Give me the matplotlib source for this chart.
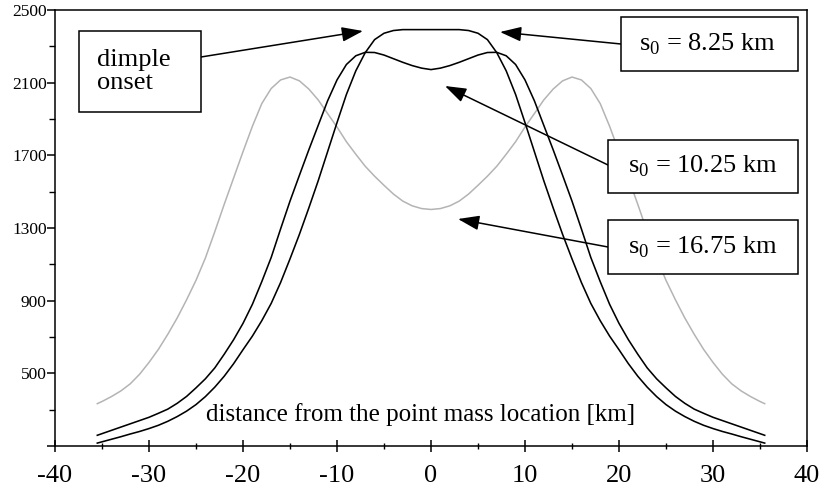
#
# python3 plot.py
#
import matplotlib
matplotlib.use("Agg")
import matplotlib.pyplot as plt
import numpy as np

plt.rcParams['font.family'] = ['Liberation Serif', 'DejaVu Serif']
plt.rcParams['mathtext.fontset'] = 'custom'
plt.rcParams['mathtext.rm'] = 'Liberation Serif'
plt.rcParams['axes.unicode_minus'] = False

# distance from the point mass [km]
dist = [-35.5, -35, -34, -33, -32, -31, -30, -29, -28, -27, -26, -25, -24, -23, -22, -21,
        -20, -19, -18, -17, -16, -15, -14, -13, -12, -11, -10, -9, -8, -7, -6, -5, -4,
        -3, -2, -1, 0, 1, 2, 3, 4, 5, 6, 7, 8, 9, 10, 11, 12, 13, 14, 15, 16, 17, 18,
        19, 20, 21, 22, 23, 24, 25, 26, 27, 28, 29, 30, 31, 32, 33, 34, 35, 35.5]

# s0 = 8.25 km (flat top, "dimple onset")
s0_825 = [116, 123, 137, 151, 166, 180, 196, 214, 236, 262, 292, 328, 372, 424, 484, 553,
          630, 705, 790, 885, 1000, 1130, 1265, 1410, 1560, 1720, 1880, 2035, 2165, 2265,
          2337, 2372, 2387, 2392, 2392, 2392, 2392, 2392, 2392, 2392, 2387, 2372, 2337,
          2265, 2165, 2035, 1880, 1720, 1560, 1410, 1265, 1130, 1000, 885, 790, 705, 630,
          553, 484, 424, 372, 328, 292, 262, 236, 214, 196, 180, 166, 151, 137, 123, 116]

# s0 = 10.25 km
s0_1025 = [159, 168, 186, 204, 222, 240, 258, 280, 303, 335, 373, 420, 470, 530, 605, 685,
           775, 880, 1005, 1138, 1295, 1448, 1590, 1730, 1865, 2000, 2115, 2200, 2248,
           2267, 2266, 2252, 2232, 2212, 2194, 2180, 2172, 2180, 2194, 2212, 2232, 2252,
           2266, 2267, 2248, 2200, 2115, 2000, 1865, 1730, 1590, 1448, 1295, 1138, 1005,
           880, 775, 685, 605, 530, 470, 420, 373, 335, 303, 280, 258, 240, 222, 204, 186,
           168, 159]

# s0 = 16.75 km
s0_1675 = [333, 345, 372, 403, 442, 495, 560, 632, 715, 805, 905, 1012, 1135, 1280, 1430,
           1575, 1720, 1860, 1985, 2068, 2115, 2131, 2110, 2065, 2005, 1930, 1856, 1775,
           1706, 1640, 1585, 1535, 1487, 1448, 1422, 1407, 1402, 1407, 1422, 1448, 1487,
           1535, 1585, 1640, 1706, 1775, 1856, 1930, 2005, 2065, 2110, 2131, 2115, 2068,
           1985, 1860, 1720, 1575, 1430, 1280, 1135, 1012, 905, 805, 715, 632, 560, 495,
           442, 403, 372, 345, 333]

yticks = [100, 500, 900, 1300, 1700, 2100, 2500]
ylabels = ['', '500', '900', '1300', '1700', '2100', '2500']
xticks = [-40, -30, -20, -10, 0, 10, 20, 30, 40]

W, H = 827, 490
fig = plt.figure(figsize=(W / 100, H / 100), dpi=100)
ax = fig.add_axes([55 / W, 1 - 446 / H, (807 - 55) / W, (446 - 10) / H])

ax.plot(dist, s0_1675, color='#b4b4b4', lw=1.1)
ax.plot(dist, s0_1025, color='black', lw=1.15)
ax.plot(dist, s0_825, color='black', lw=1.15)

ax.set_xlim(-40, 40)
ax.set_ylim(100, 2500)
ax.set_xticks(xticks)
ax.set_xticks(np.arange(-35, 40, 10), minor=True)
ax.set_yticks(yticks)
ax.set_yticklabels(ylabels)
ax.set_yticks(np.arange(300, 2500, 400), minor=True)

for s in ax.spines.values():
    s.set_linewidth(1.1)
ax.tick_params(axis='x', which='major', direction='inout', length=8, width=1.1,
               labelsize=19, pad=10)
ax.tick_params(axis='x', which='minor', direction='inout', length=4, width=1.0)
ax.tick_params(axis='y', which='major', direction='out', length=6, width=1.1,
               labelsize=12.5, pad=0)
ax.tick_params(axis='y', which='minor', direction='out', length=4, width=1.0)

ax.text(0.4856, 0.073, 'distance from the point mass location [km]', transform=ax.transAxes,
        ha='center', va='center', fontsize=18)


def px(x, y):
    # reference pixel (top-left origin) -> figure pixels
    return (x, H - y)


def box(x0, y0, x1, y1):
    fig.patches.append(plt.Rectangle(px(x0, y1), x1 - x0, y1 - y0, transform=None,
                                     fill=True, facecolor='white', edgecolor='black',
                                     lw=1.1, zorder=5))


def arrow(tail, tip):
    ax.annotate('', xy=px(*tip), xytext=px(*tail), xycoords='figure pixels',
                textcoords='figure pixels', annotation_clip=False,
                arrowprops=dict(arrowstyle='-|>,head_length=1.3,head_width=0.45',
                                mutation_scale=10, color='black', lw=1.1,
                                shrinkA=0, shrinkB=0))


box(79, 31, 201, 112)
fig.text(97 / W, 1 - 71.5 / H, 'dimple\nonset', ha='left', va='center', fontsize=19,
         linespacing=1.1, zorder=6)
arrow((201, 57), (363, 31))

box(621, 17, 798, 71)
fig.text(707 / W, 1 - 44 / H, r's$_\mathrm{0}$ = 8.25 km', ha='center', va='center',
         fontsize=19, zorder=6)
arrow((621, 44), (500, 32))

box(608, 140, 798, 193)
fig.text(703 / W, 1 - 166 / H, r's$_\mathrm{0}$ = 10.25 km', ha='center', va='center',
         fontsize=19, zorder=6)
arrow((608, 165), (445, 86))

box(608, 220, 798, 274)
fig.text(703 / W, 1 - 247 / H, r's$_\mathrm{0}$ = 16.75 km', ha='center', va='center',
         fontsize=19, zorder=6)
arrow((608, 247), (458, 219))

fig.savefig('out.png', dpi=100)
